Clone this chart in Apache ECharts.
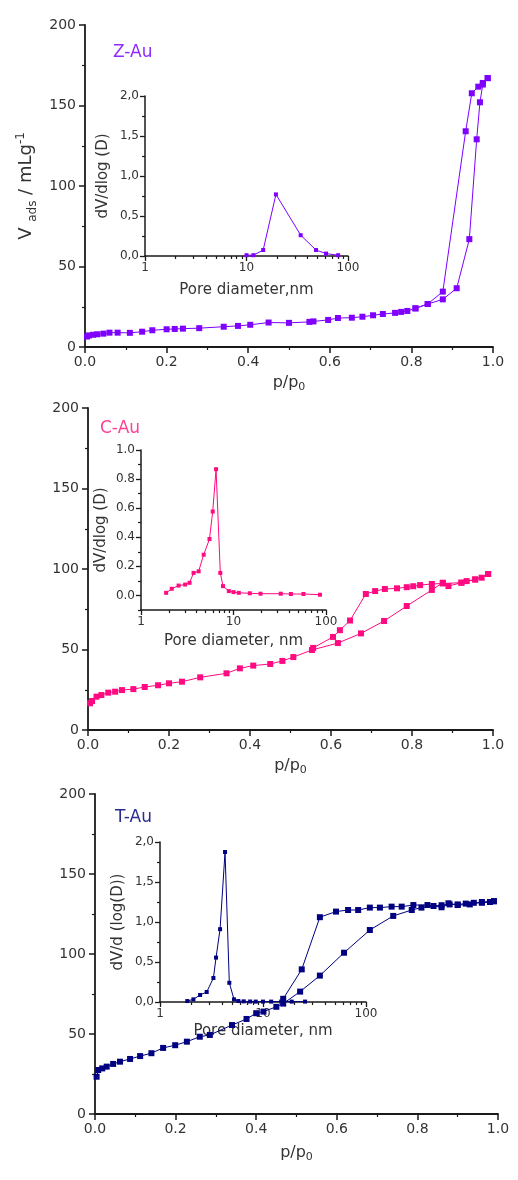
<!DOCTYPE html>
<html><head><meta charset="utf-8">
<script src="https://cdn.jsdelivr.net/npm/echarts@6/dist/echarts.min.js"></script>
<style>html,body{margin:0;padding:0;background:#fff}#c{width:518px;height:1180px}</style>
</head><body><div id="c"></div>
<script>
// ---------- Z-Au ----------
const zAdsP = [0.005,0.01,0.02,0.03,0.045,0.06,0.08,0.11,0.14,0.165,0.2,0.22,0.24,0.28,0.34,0.375,0.405,0.45,0.5,0.55,0.56,0.596,0.62,0.654,0.68,0.706,0.73,0.76,0.775,0.79,0.81,0.84,0.877,0.911,0.942,0.96,0.968,0.975,0.987];
const zAdsV = [6.5,7.2,7.6,7.9,8.3,8.9,8.9,8.8,9.5,10.4,11.0,11.2,11.4,11.7,12.6,13.1,13.8,15.2,15.0,15.6,15.9,16.8,18.0,18.2,18.8,19.7,20.5,21.2,21.8,22.4,24.0,26.7,29.6,36.5,67,129,152,163,167];
const zDesP = [0.987,0.975,0.964,0.948,0.933,0.877,0.84,0.81];
const zDesV = [167,164,161.7,157.6,134,34.4,26.7,24.0];
const zPsdD = [10,11.7,14.6,19.5,34.2,48.4,60.7,80];
const zPsdV = [0.01,0.01,0.075,0.77,0.26,0.075,0.03,0.01];
// ---------- C-Au ----------
const cAdsP = [0.005,0.01,0.021,0.033,0.05,0.067,0.084,0.112,0.14,0.173,0.2,0.232,0.277,0.342,0.375,0.408,0.45,0.48,0.507,0.553,0.617,0.674,0.731,0.787,0.849,0.876,0.89,0.922,0.935,0.956,0.972,0.988];
const cAdsV = [16.6,18,20.7,21.7,23.2,23.8,24.8,25.4,26.7,27.8,29,30,32.7,35.2,38.3,40,41,42.9,45.3,49.7,54,60,67.7,77,87,91.5,89.4,91.5,92.5,93.5,94.6,96.9];
const cDesP = [0.988,0.956,0.922,0.876,0.849,0.82,0.803,0.787,0.763,0.733,0.709,0.686,0.647,0.622,0.605,0.556];
const cDesV = [96.9,93.5,91.5,91,90.7,90,89.3,88.7,88,87.6,86.3,84.5,68,62,57.8,51];
const cPsdD = [1.87,2.15,2.55,3.0,3.35,3.7,4.2,4.76,5.5,5.96,6.48,7.2,7.7,8.9,10,11.4,15,19.6,32.4,41.7,57,86];
const cPsdV = [0.018,0.046,0.068,0.075,0.087,0.155,0.166,0.28,0.388,0.577,0.868,0.155,0.064,0.03,0.023,0.018,0.015,0.012,0.012,0.01,0.01,0.005];
// ---------- T-Au ----------
const tAdsP = [0.004,0.008,0.018,0.029,0.045,0.062,0.087,0.112,0.14,0.169,0.199,0.228,0.26,0.285,0.34,0.376,0.4,0.418,0.45,0.467,0.509,0.558,0.618,0.682,0.74,0.786,0.81,0.84,0.86,0.88,0.9,0.92,0.94,0.96,0.98,0.99];
const tAdsV = [23.3,27.5,28.5,29.6,31.3,32.7,34.4,36.2,38,41.3,43,45.2,48.3,49.4,55.6,59.4,63,64,67,69,76.5,86.5,100.8,115,123.8,127.5,129,130,130.5,131,131,131.5,132,132,132.5,133];
const tDesP = [0.99,0.96,0.93,0.9,0.877,0.86,0.825,0.79,0.761,0.736,0.707,0.682,0.653,0.628,0.598,0.558,0.513,0.467];
const tDesV = [133,132.5,131,130.6,131.7,129.2,130.6,130.6,129.6,129.6,129,129,127.5,127.5,126.5,123,90.4,72];
const tPsdD = [1.84,2.11,2.45,2.84,3.3,3.5,3.83,4.28,4.71,5.23,5.76,6.5,7.5,8.5,10,12,15,19,25.6];
const tPsdV = [0.012,0.033,0.088,0.125,0.3,0.555,0.91,1.875,0.24,0.033,0.012,0.008,0.006,0.005,0.005,0.005,0.005,0.005,0.005];

// ---------- tick labels / names ----------
const logMinor = [2,3,4,5,6,7,8,9,20,30,40,50,60,70,80,90];
const cPsdYLabels = [0,0.2,0.4,0.6,0.8,1.0];
const cPsdYMinor = [-0.1,0.1,0.3,0.5,0.7,0.9];
const titles = ['Z-Au','C-Au','T-Au'];
const colors = ['#7f00ff','#ff0a80','#000080'];
const titleColors = ['#8f2bff','#ff3f96','#2b2b90'];

const FF = 'DejaVu Sans';
const TXT = '#333';
const AX = '#1a1a1a';

function pairs(a,b){return a.map((x,i)=>[x,b[i]]);}
const comma = v => v.toFixed(1).replace('.',',');

function mainX(grid, gap){
  return {type:'value', gridIndex:grid, position:'bottom', min:0, max:1, interval:0.2,
    name:'{a|p/p}{b|0}', nameLocation:'middle', nameGap:gap,
    nameTextStyle:{rich:{a:{fontFamily:FF,fontSize:16,color:TXT,lineHeight:20,verticalAlign:'middle'},
                         b:{fontFamily:FF,fontSize:11,color:TXT,lineHeight:12,verticalAlign:'bottom'}}},
    axisLine:{onZero:false,lineStyle:{color:AX,width:1.8}},
    axisTick:{length:6,lineStyle:{color:AX,width:1.5}},
    minorTick:{show:true,splitNumber:2,length:3,lineStyle:{color:AX,width:1.2}},
    splitLine:{show:false},
    axisLabel:{fontFamily:FF,fontSize:14,color:TXT,margin:8,formatter:v=>v.toFixed(1)}};
}
function mainY(grid, named){
  const o = {type:'value', gridIndex:grid, position:'left', min:0, max:200, interval:50,
    axisLine:{onZero:false,lineStyle:{color:AX,width:1.8}},
    axisTick:{length:6,lineStyle:{color:AX,width:1.5}},
    minorTick:{show:true,splitNumber:2,length:3,lineStyle:{color:AX,width:1.2}},
    splitLine:{show:false},
    axisLabel:{fontFamily:FF,fontSize:14,color:TXT,margin:9}};
  if(named){
    o.name='{a|V }{b|ads}{a| / mLg}{c|-1}';
    o.nameLocation='middle'; o.nameGap=44;
    o.nameTextStyle={rich:{a:{fontFamily:FF,fontSize:18,color:TXT,lineHeight:24,verticalAlign:'middle'},
      b:{fontFamily:FF,fontSize:12,color:TXT,lineHeight:12,verticalAlign:'bottom'},
      c:{fontFamily:FF,fontSize:12,color:TXT,lineHeight:12,verticalAlign:'top'}}};
  }
  return o;
}
function insetX(grid, name, gap){
  return {type:'log', logBase:10, gridIndex:grid, position:'bottom', min:1, max:100,
    name:name, nameLocation:'middle', nameGap:gap,
    nameTextStyle:{fontFamily:FF,fontSize:15,color:TXT},
    axisLine:{onZero:false,lineStyle:{color:AX,width:1.5}},
    axisTick:{length:5,lineStyle:{color:AX,width:1.3}},
    splitLine:{show:false},
    axisLabel:{fontFamily:FF,fontSize:12,color:TXT,margin:6}};
}
function insetXMinor(grid){
  return {type:'log', logBase:10, gridIndex:grid, position:'bottom', min:1, max:100,
    axisLine:{show:false,onZero:false}, axisLabel:{show:false}, splitLine:{show:false},
    axisTick:{length:3,customValues:logMinor,lineStyle:{color:AX,width:1.2}}};
}
function insetY(grid, name, gap, fmt){
  return {type:'value', gridIndex:grid, position:'left', min:0, max:2, interval:0.5,
    name:name, nameLocation:'middle', nameGap:gap,
    nameTextStyle:{fontFamily:FF,fontSize:15,color:TXT},
    axisLine:{onZero:false,lineStyle:{color:AX,width:1.5}},
    axisTick:{length:5,lineStyle:{color:AX,width:1.3}},
    minorTick:{show:true,splitNumber:2,length:3,lineStyle:{color:AX,width:1.2}},
    splitLine:{show:false},
    axisLabel:{fontFamily:FF,fontSize:12,color:TXT,margin:6,formatter:fmt}};
}

const grids = [
  {left:85, top:25, width:408, height:322},
  {left:145, top:96, width:203, height:160},
  {left:88, top:408, width:405, height:322},
  {left:141, top:450, width:185, height:160},
  {left:95, top:794, width:403, height:320},
  {left:160, top:842, width:206, height:160}
];

const xAxis = [
  mainX(0,26),                                   //0
  insetX(1,'Pore diameter,nm',27),               //1
  insetXMinor(1),                                //2
  mainX(2,26),                                   //3
  insetX(3,'Pore diameter, nm',24),              //4
  insetXMinor(3),                                //5
  mainX(4,29),                                   //6
  insetX(5,'Pore diameter, nm',22),              //7
  insetXMinor(5)                                 //8
];
const cY = {type:'value', gridIndex:3, position:'left', min:-0.1, max:1.0,
    name:'dV/dlog (D)', nameLocation:'middle', nameGap:32,
    nameTextStyle:{fontFamily:FF,fontSize:15,color:TXT},
    axisLine:{onZero:false,lineStyle:{color:AX,width:1.5}},
    axisTick:{length:5,customValues:cPsdYLabels,lineStyle:{color:AX,width:1.3}},
    splitLine:{show:false},
    axisLabel:{fontFamily:FF,fontSize:12,color:TXT,margin:6,customValues:cPsdYLabels,formatter:v=>v.toFixed(1)}};
const cYMinor = {type:'value', gridIndex:3, position:'left', min:-0.1, max:1.0,
    axisLine:{show:false,onZero:false}, axisLabel:{show:false}, splitLine:{show:false},
    axisTick:{length:3,customValues:cPsdYMinor,lineStyle:{color:AX,width:1.2}}};
const yAxis = [
  mainY(0,true),                                 //0
  insetY(1,'dV/dlog (D)',34,comma),              //1
  mainY(2,false),                                //2
  cY,                                            //3
  cYMinor,                                       //4
  mainY(4,false),                                //5
  insetY(5,'dV/d (log(D))',34,comma)             //6
];

function mainSeries(x,y,xi,yi,col){
  return {type:'line', xAxisIndex:xi, yAxisIndex:yi, data:pairs(x,y), z:4,
    symbol:'rect', symbolSize:6, showSymbol:true,
    itemStyle:{color:col}, lineStyle:{color:col,width:1}};
}
function insetSeries(x,y,xi,yi,col){
  return {type:'line', xAxisIndex:xi, yAxisIndex:yi, data:pairs(x,y), z:3,
    symbol:'rect', symbolSize:4, showSymbol:true,
    itemStyle:{color:col}, lineStyle:{color:col,width:1}};
}

const series = [
  mainSeries(zAdsP,zAdsV,0,0,colors[0]),
  mainSeries(zDesP,zDesV,0,0,colors[0]),
  insetSeries(zPsdD,zPsdV,1,1,colors[0]),
  mainSeries(cAdsP,cAdsV,3,2,colors[1]),
  mainSeries(cDesP,cDesV,3,2,colors[1]),
  insetSeries(cPsdD,cPsdV,4,3,colors[1]),
  mainSeries(tAdsP,tAdsV,6,5,colors[2]),
  mainSeries(tDesP,tDesV,6,5,colors[2]),
  insetSeries(tPsdD,tPsdV,7,6,colors[2])
];

const titlePos = [[113,44],[100,420],[115,809]];
const title = titles.map((t,i)=>({text:t,left:titlePos[i][0],top:titlePos[i][1],padding:0,
  textStyle:{fontFamily:FF,fontSize:17,fontWeight:'normal',color:titleColors[i]}}));

const chart = echarts.init(document.getElementById('c'),null,{renderer:'canvas'});
chart.setOption({animation:false, backgroundColor:'#fff', title, grid:grids, xAxis, yAxis, series});
</script></body></html>
